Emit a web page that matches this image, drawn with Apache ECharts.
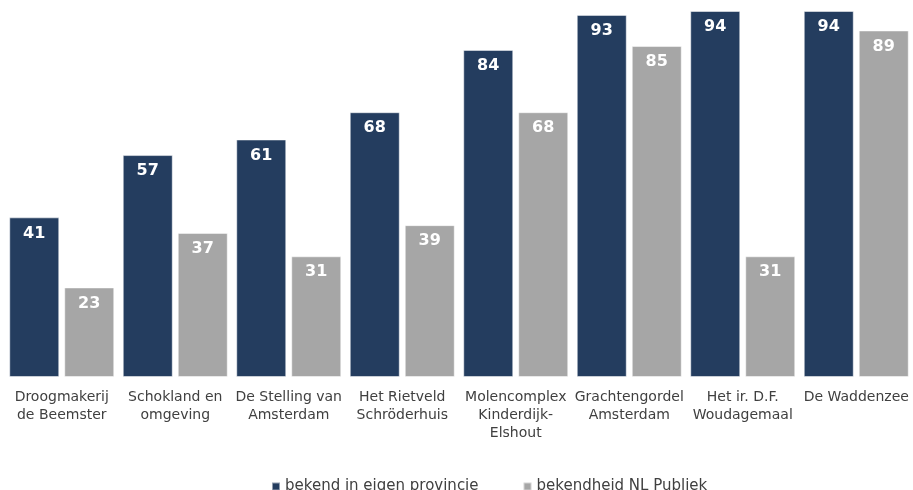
<!DOCTYPE html>
<html>
<head>
<meta charset="utf-8">
<script src="https://cdn.jsdelivr.net/npm/echarts@6/dist/echarts.min.js"></script>
<style>
  html, body { margin: 0; padding: 0; background: #fff; }
  #chart { width: 913px; height: 490px; }
</style>
</head>
<body>
<div id="chart"></div>
<script>
  var categories = [
    'Droogmakerij\nde Beemster',
    'Schokland en\nomgeving',
    'De Stelling van\nAmsterdam',
    'Het Rietveld\nSchröderhuis',
    'Molencomplex\nKinderdijk-\nElshout',
    'Grachtengordel\nAmsterdam',
    'Het ir. D.F.\nWoudagemaal',
    'De Waddenzee'
  ];
  var eigenProvincie = [41, 57, 61, 68, 84, 93, 94, 94];
  var nlPubliek = [23, 37, 31, 39, 68, 85, 31, 89];
  var seriesNames = ['bekend in eigen provincie', 'bekendheid NL Publiek'];

  var font = "'DejaVu Sans', Verdana, sans-serif";
  var chart = echarts.init(document.getElementById('chart'));

  var labelStyle = {
    show: true,
    position: 'insideTop',
    distance: 8,
    color: '#fff',
    fontWeight: 'bold',
    fontSize: 16,
    fontFamily: font
  };

  chart.setOption({
    animation: false,
    grid: { left: 5, right: -2, top: 11, bottom: 113, containLabel: false },
    legend: {
      top: 474,
      left: 266,
      itemWidth: 8,
      itemHeight: 8,
      itemGap: 44,
      icon: 'rect',
      textStyle: { color: '#404040', fontSize: 15, fontFamily: font },
      data: seriesNames
    },
    xAxis: {
      type: 'category',
      data: categories,
      axisLine: { show: false },
      axisTick: { show: false },
      axisLabel: {
        interval: 0,
        margin: 11,
        color: '#404040',
        fontSize: 14,
        lineHeight: 18,
        fontFamily: font
      }
    },
    yAxis: {
      type: 'value',
      min: 0,
      max: 94,
      show: false,
      splitLine: { show: false }
    },
    series: [
      {
        name: seriesNames[0],
        type: 'bar',
        data: eigenProvincie,
        barWidth: 50,
        barGap: '10%',
        itemStyle: { color: '#243d5f', borderColor: 'rgba(255,255,255,0.5)', borderWidth: 1 },
        label: labelStyle
      },
      {
        name: seriesNames[1],
        type: 'bar',
        data: nlPubliek,
        barWidth: 50,
        itemStyle: { color: '#a6a6a6', borderColor: 'rgba(255,255,255,0.5)', borderWidth: 1 },
        label: labelStyle
      }
    ]
  });
</script>
</body>
</html>
